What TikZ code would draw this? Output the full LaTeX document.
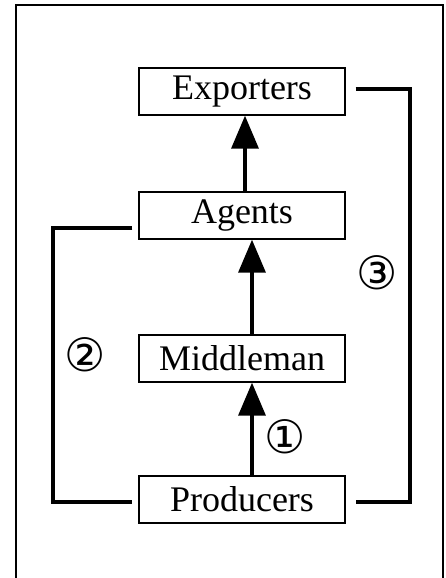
\documentclass[tikz,border=0pt]{standalone}
\usepackage{fontspec}
\setmainfont{Liberation Serif}
\newfontfamily\circfont{DejaVu Sans}
\usetikzlibrary{arrows.meta, positioning}

\begin{document}
\begin{tikzpicture}[x=1pt, y=-1pt, >={Triangle[length=33pt, width=27pt]}]
    \tikzstyle{state} = [draw, line width=1.4pt, minimum width=206pt, minimum height=47pt, inner sep=0pt, text centered, font=\fontsize{36}{40}\selectfont]
    \tikzstyle{flow} = [->, line width=3.5pt]
    \tikzstyle{route} = [line width=3.2pt]
    \tikzstyle{num} = [font=\circfont\fontsize{46}{48}\selectfont]
    \useasboundingbox (0,0) rectangle (445,578);
    \draw[line width=2pt] (16,590) -- (16,5) -- (443,5) -- (443,590);
    \node [state] at (242,91.5) (exporters) {Exporters};
    \node [state] at (242,215.5) (agents) {Agents};
    \node [state] at (242,358.5) (middleman) {Middleman};
    \node [state] at (242,499.5) (producers) {Producers};
    \draw[flow] ([xshift=3pt]agents.north) -- ([xshift=3pt]exporters.south);
    \draw[flow] ([xshift=10pt]middleman.north) -- ([xshift=10pt]agents.south);
    \draw[flow] ([xshift=10pt]producers.north) -- ([xshift=10pt]middleman.south);
    % side routes
    \draw[route, shorten <=6pt, shorten >=6pt] ([yshift=-12.5pt]agents.west) -- (53,228) |- ([yshift=-2.5pt]producers.west);
    \draw[route, shorten <=10pt, shorten >=10pt] ([yshift=2.5pt]exporters.east) -- (410,89) |- ([yshift=-2.5pt]producers.east);
    \node [num] at (285,437) (one) {①};
    \node [num] at (85,355) (two) {②};
    \node [num] at (377,273) (three) {③};
\end{tikzpicture}
\end{document}
